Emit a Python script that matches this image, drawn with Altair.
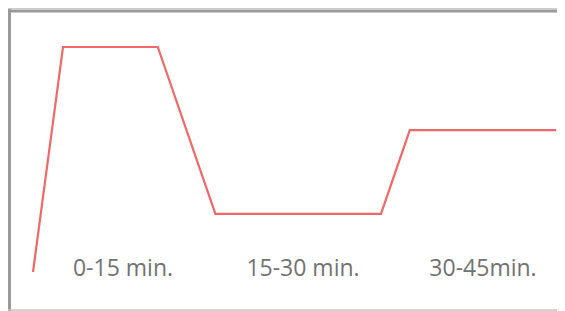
import altair as alt
import pandas as pd

# line data (minutes vs. level)
minutes = [0.0, 2.5, 10.4, 15.2, 29.0, 31.4, 43.6]
level = [0.0, 100.0, 100.0, 25.8, 25.8, 63.1, 63.1]

labels = ["0-15 min.", "15-30 min.", "30-45min."]
label_pos = [7.5, 22.5, 37.5]
label_level = [1.3, 1.3, 1.3]

W, H = 549, 303
xdom = [-2.083, -2.083 + W / 12.0]
# 2.25 px per unit, value 0 at 264 px from top of plot
ydom = [-(H - 264) / 2.25, 100 + 39 / 2.25]

line_df = pd.DataFrame({"m": minutes, "v": level})
lab_df = pd.DataFrame({"m": label_pos, "v": label_level, "t": labels})

xs = alt.Scale(domain=xdom, nice=False, zero=False)
ys = alt.Scale(domain=ydom, nice=False, zero=False)

line = alt.Chart(line_df).mark_line(color="#f06868", strokeWidth=2.2).encode(
    x=alt.X("m:Q", scale=xs, axis=None),
    y=alt.Y("v:Q", scale=ys, axis=None),
)

text = alt.Chart(lab_df).mark_text(
    font="Open Sans", fontSize=23, color="#727272", baseline="middle", align="center"
).encode(
    x=alt.X("m:Q", scale=xs, axis=None),
    y=alt.Y("v:Q", scale=ys, axis=None),
    text="t:N",
)

one = pd.DataFrame({"a": [0]})
right_cover = alt.Chart(one).mark_rule(color="#ffffff", strokeWidth=4).encode(
    y=alt.value(5), y2=alt.value(H - 3), x=alt.value(W)
)
top_light = alt.Chart(one).mark_rule(color="#cccccc", strokeWidth=2).encode(
    x=alt.value(-8), x2=alt.value(W), y=alt.value(0)
)
top_dark = alt.Chart(one).mark_rule(color="#999999", strokeWidth=3).encode(
    x=alt.value(0), x2=alt.value(W), y=alt.value(3)
)
left_light = alt.Chart(one).mark_rule(color="#cccccc", strokeWidth=2).encode(
    y=alt.value(-8), y2=alt.value(H), x=alt.value(-1)
)
left_dark = alt.Chart(one).mark_rule(color="#999999", strokeWidth=3).encode(
    y=alt.value(1), y2=alt.value(H), x=alt.value(1.5)
)
bottom = alt.Chart(one).mark_rule(color="#c4c4c4", strokeWidth=1.5).encode(
    x=alt.value(0), x2=alt.value(W), y=alt.value(302)
)

chart = alt.layer(right_cover, top_light, top_dark, left_light, left_dark, bottom, line, text).properties(
    width=W, height=H, padding=0, autosize=alt.AutoSizeParams(type="none")
).configure_view(strokeWidth=0, stroke="transparent")

chart.save("out.html", embed_options={"renderer": "svg", "actions": False})
